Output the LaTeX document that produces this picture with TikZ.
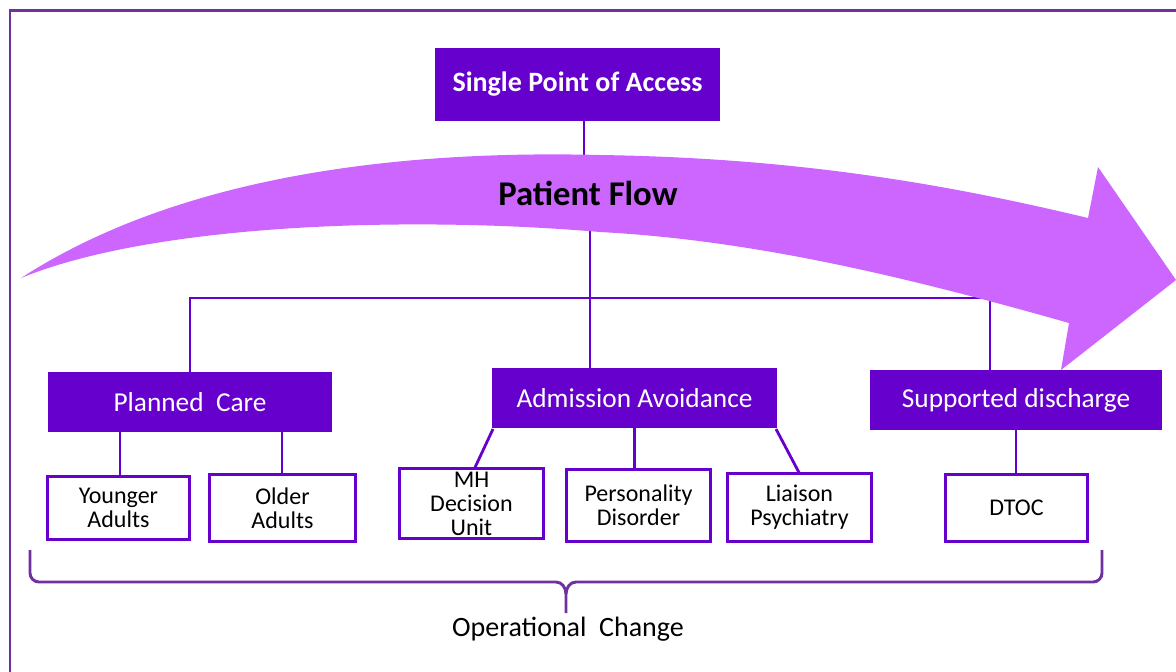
\documentclass[tikz,border=0pt]{standalone}
\usepackage{fontspec}
\setmainfont{Carlito}
\usetikzlibrary{calc}
\definecolor{boxpurple}{HTML}{6600CC}
\definecolor{flowpink}{HTML}{CC66FF}
\definecolor{framepurple}{HTML}{7030A0}
\begin{document}
\begin{tikzpicture}[x=0.75pt,y=-0.75pt,
  headbox/.style={fill=boxpurple,text=white,draw=none,inner sep=0pt,outer sep=0pt,align=center,
     font=\fontsize{20.5pt}{24pt}\selectfont},
  subbox/.style={fill=white,draw=boxpurple,line width=2.6pt,inner sep=0pt,outer sep=0pt,align=center,
     font=\fontsize{18pt}{18pt}\selectfont},
  link/.style={draw=boxpurple,line width=2.1pt},
  bracket/.style={draw=framepurple,line width=2.2pt}]
\useasboundingbox (0,0) rectangle (1176,671);
% outer frame
\draw[framepurple,line width=2pt] (10,700) -- (10,10.5) -- (1200,10.5);

% nodes
\node[headbox,font=\bfseries\fontsize{21pt}{24pt}\selectfont,minimum width=285*0.75pt,minimum height=73*0.75pt] (spa) at (577.5,84.5) {Single Point of Access};
\node[headbox,minimum width=284*0.75pt,minimum height=60*0.75pt] (pc) at (190,402) {Planned\ \ Care};
\node[headbox,minimum width=285*0.75pt,minimum height=60*0.75pt] (aa) at (634.5,398) {Admission Avoidance};
\node[headbox,minimum width=292*0.75pt,minimum height=60*0.75pt] (sd) at (1016,400) {Supported discharge};

\node[subbox,minimum width=142*0.75pt,minimum height=63*0.75pt] (ya) at (118.5,508) {Younger\\Adults};
\node[subbox,minimum width=146*0.75pt,minimum height=67*0.75pt] (oa) at (282.5,508) {Older\\Adults};
\node[subbox,minimum width=144*0.75pt,minimum height=70*0.75pt] (mh) at (471.5,503.5) {MH\\Decision\\Unit};
\node[subbox,minimum width=144*0.75pt,minimum height=72*0.75pt] (pd) at (638.5,505.5) {Personality\\Disorder};
\node[subbox,minimum width=144*0.75pt,minimum height=68*0.75pt] (lp) at (799.5,507.5) {Liaison\\Psychiatry};
\node[subbox,minimum width=142*0.75pt,minimum height=67*0.75pt] (dtoc) at (1016.5,508) {DTOC};

% connectors
\coordinate (spaend) at (584,175);
\coordinate (flowstart) at (590,200);
\coordinate (hl) at (190,298);
\coordinate (hr) at (990,298);
\draw[link] (spa.south -| spaend) -- (spaend);
\draw[link] (flowstart) -- (flowstart |- aa.north);
\draw[link] (hl |- pc.north) -- (hl) -- (hr) -- (hr |- sd.north);

\draw[link] (ya.north -| 120,0) -- (pc.south -| 120,0);
\draw[link] (oa.north -| 282,0) -- (pc.south -| 282,0);
\draw[link] ($(aa.south west)+(1,1)$) -- ($(mh.north)+(3,0)$);
\draw[link] (aa.south) -- (aa.south |- pd.north);
\draw[link] ($(aa.south east)+(-1,1)$) -- (lp.north);
\draw[link] (sd.south) -- (sd.south |- dtoc.north);

% patient flow arrow
\fill[flowpink] (21,278) .. controls (180,175) and (400,150) .. (600,155)
  .. controls (800,158) and (950,185) .. (1088,218)
  -- (1098,167) -- (1176,280) -- (1061,370) -- (1069,323)
  .. controls (900,275) and (750,240) .. (600,232)
  .. controls (400,215) and (150,225) .. (21,278) -- cycle;
\node[font=\bfseries\fontsize{26pt}{30pt}\selectfont] (pf) at (588,193) {Patient Flow};

% bracket
\draw[bracket] (30,550) -- (30,573) to[out=-90,in=180] (39,582) -- (556,582)
  to[out=0,in=90] (566,594) -- (566,613);
\draw[bracket] (566,594) to[out=90,in=180] (576,582) -- (1093,582)
  to[out=0,in=-90] (1102,573) -- (1102,550);
\node[font=\fontsize{21pt}{24pt}\selectfont] (oc) at (568,629) {Operational\ \ Change};
\end{tikzpicture}
\end{document}
